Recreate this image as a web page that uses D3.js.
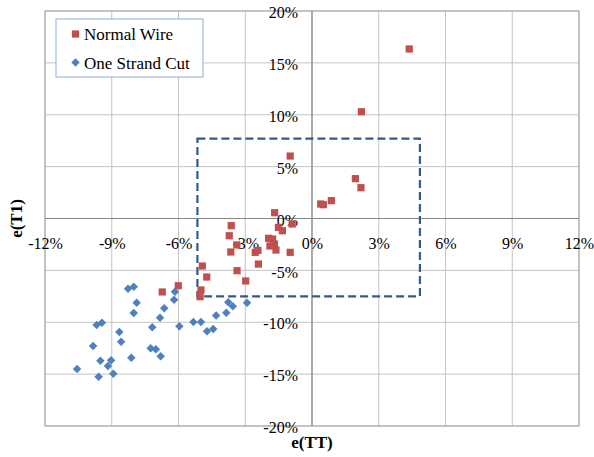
<!DOCTYPE html>
<html>
<head>
<meta charset="utf-8">
<script src="https://cdn.jsdelivr.net/npm/d3@7"></script>
<style>
  html, body { margin: 0; padding: 0; background: #fff; }
  svg { display: block; }
  svg text { font-family: "Liberation Serif", "Times New Roman", serif; }
</style>
</head>
<body>
<svg id="chart" width="594" height="457"></svg>
<script>
// e(TT) vs e(T1) errors, in percent
const normalWireTT = [4.37, 2.22, -0.98, 1.95, 2.20, 0.39, 0.51, 0.87, -1.68, -3.63, -3.72, -1.51, -1.33, -0.89,
  -1.95, -1.77, -1.89, -1.69, -1.62, -3.65, -3.38, -2.55, -2.43, -0.98, -2.41, -3.37, -2.98, -4.93, -4.73,
  -4.99, -5.03, -6.73, -6.01];
const normalWireT1 = [16.34, 10.29, 6.02, 3.84, 2.97, 1.40, 1.33, 1.72, 0.56, -0.69, -1.66, -0.85, -1.18, -0.53,
  -1.91, -1.98, -2.65, -2.46, -3.04, -3.23, -2.55, -3.26, -3.07, -3.26, -4.39, -5.03, -6.02, -4.58, -5.64,
  -6.89, -7.54, -7.08, -6.48];

const strandCutTT = [-10.56, -9.84, -9.68, -9.44, -9.59, -9.51, -9.17, -9.03, -8.93, -8.66, -8.58, -8.27, -8.01,
  -7.88, -8.01, -8.12, -7.25, -7.02, -6.80, -7.18, -6.83, -6.64, -6.20, -6.16, -5.96, -5.33, -4.99, -4.72,
  -4.44, -4.31, -3.85, -3.76, -3.56, -2.92];
const strandCutT1 = [-14.51, -12.29, -10.26, -10.04, -15.25, -13.71, -14.22, -13.67, -14.96, -10.94, -11.87, -6.77,
  -6.57, -8.12, -9.11, -13.42, -12.51, -12.61, -13.28, -10.49, -9.56, -8.66, -7.83, -7.06, -10.39, -9.98,
  -9.98, -10.87, -10.65, -9.35, -9.08, -8.08, -8.46, -8.12];

// tolerance band outlined with a dashed box
const bandTT = [-5.15, 4.85];
const bandT1 = [-7.5, 7.7];

const xTicks = [-12, -9, -6, -3, 0, 3, 6, 9, 12];
const yTicks = [-20, -15, -10, -5, 0, 5, 10, 15, 20];
const seriesNames = ["Normal Wire", "One Strand Cut"];

const pct = d => d + "%";
const serif = "'Liberation Serif', 'Times New Roman', serif";

const svg = d3.select("#chart");
const x = d3.scaleLinear().domain([-12, 12]).range([45, 579]);
const y = d3.scaleLinear().domain([-20, 20]).range([426, 11]);

// grid
const grid = svg.append("g");
grid.selectAll("line.v").data(xTicks).join("line")
  .attr("x1", d => x(d)).attr("x2", d => x(d))
  .attr("y1", y(20)).attr("y2", y(-20))
  .attr("stroke", "#c4c4c4").attr("stroke-width", 1);
grid.selectAll("line.h").data(yTicks).join("line")
  .attr("y1", d => y(d)).attr("y2", d => y(d))
  .attr("x1", x(-12)).attr("x2", x(12))
  .attr("stroke", "#c4c4c4").attr("stroke-width", 1);

// plot frame
svg.append("rect")
  .attr("x", x(-12)).attr("y", y(20))
  .attr("width", x(12) - x(-12)).attr("height", y(-20) - y(20))
  .attr("fill", "none").attr("stroke", "#a6a6a6").attr("stroke-width", 1);

// axis lines through the origin
svg.append("line").attr("x1", x(-12)).attr("x2", x(12)).attr("y1", y(0)).attr("y2", y(0))
  .attr("stroke", "#868686").attr("stroke-width", 1.2);
svg.append("line").attr("x1", x(0)).attr("x2", x(0)).attr("y1", y(20)).attr("y2", y(-20))
  .attr("stroke", "#868686").attr("stroke-width", 1.2);

// tick labels
const xAxis = svg.append("g")
  .attr("transform", `translate(0,${y(0)})`)
  .call(d3.axisBottom(x).tickValues(xTicks).tickFormat(pct).tickSize(0));
xAxis.select(".domain").remove();
xAxis.selectAll("text")
  .attr("y", 30).attr("dy", 0)
  .style("font-size", "16px").style("font-family", serif).attr("fill", "#000");

const yAxis = svg.append("g")
  .attr("transform", `translate(${x(0)},0)`)
  .call(d3.axisLeft(y).tickValues(yTicks).tickFormat(pct).tickSize(0).tickPadding(14));
yAxis.select(".domain").remove();
yAxis.selectAll("text")
  .attr("dy", "0.42em")
  .style("font-size", "16px").style("font-family", serif).attr("fill", "#000");

// dashed band
svg.append("rect")
  .attr("x", x(bandTT[0])).attr("y", y(bandT1[1]))
  .attr("width", x(bandTT[1]) - x(bandTT[0]))
  .attr("height", y(bandT1[0]) - y(bandT1[1]))
  .attr("fill", "none").attr("stroke", "#34598a").attr("stroke-width", 2.2)
  .attr("stroke-dasharray", "8,4");

// markers: squares, and squares turned 45° for diamonds
const square = d3.symbol().type(d3.symbolSquare).size(52);
const diamond = d3.symbol().type(d3.symbolSquare).size(36);

svg.append("g").selectAll("path")
  .data(strandCutTT.map((v, i) => [v, strandCutT1[i]]))
  .join("path")
  .attr("d", diamond)
  .attr("transform", d => `translate(${x(d[0])},${y(d[1])}) rotate(45)`)
  .attr("fill", "#4f81bd");

svg.append("g").selectAll("path")
  .data(normalWireTT.map((v, i) => [v, normalWireT1[i]]))
  .join("path")
  .attr("d", square)
  .attr("transform", d => `translate(${x(d[0])},${y(d[1])})`)
  .attr("fill", "#c0504d");

// axis titles
svg.append("text")
  .attr("x", x(0)).attr("y", 448)
  .attr("text-anchor", "middle")
  .style("font-size", "17px").style("font-weight", "bold").style("font-family", serif)
  .text("e(TT)");
svg.append("text")
  .attr("transform", `translate(22,${y(0)}) rotate(-90)`)
  .attr("text-anchor", "middle")
  .style("font-size", "17px").style("font-weight", "bold").style("font-family", serif)
  .text("e(T1)");

// legend
const legend = svg.append("g");
legend.append("rect")
  .attr("x", 56).attr("y", 19).attr("width", 147).attr("height", 58)
  .attr("fill", "#fff").attr("stroke", "#8eaedb").attr("stroke-width", 1);
const legendMarks = [square, diamond];
const legendTurn = [0, 45];
const legendColors = ["#c0504d", "#4f81bd"];
seriesNames.forEach((name, i) => {
  const cy = 34 + i * 28.5;
  legend.append("path")
    .attr("d", legendMarks[i])
    .attr("transform", `translate(75.5,${cy}) rotate(${legendTurn[i]})`)
    .attr("fill", legendColors[i]);
  legend.append("text")
    .attr("x", 84).attr("y", cy + 6)
    .style("font-size", "17px").style("font-family", serif)
    .text(name);
});
</script>
</body>
</html>
